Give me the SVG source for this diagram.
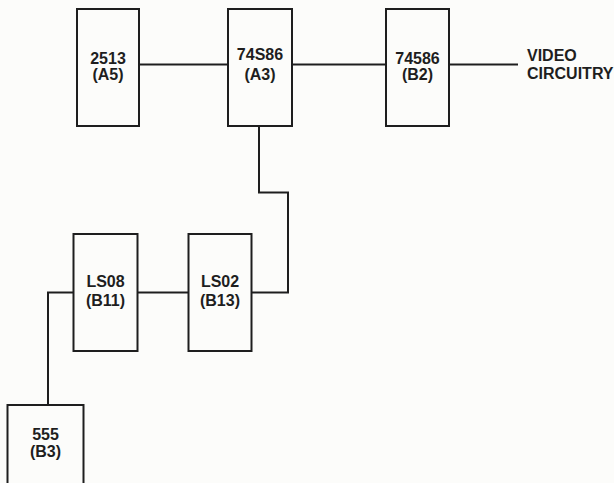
<svg xmlns="http://www.w3.org/2000/svg" width="614" height="483" viewBox="0 0 614 483">
  <style>
    .box { fill: none; stroke: #1e1e1e; stroke-width: 2; }
    .wire { fill: none; stroke: #1e1e1e; stroke-width: 2; }
    .lbl { font-family: "Liberation Sans", Arial, sans-serif; font-weight: bold; font-size: 16px; fill: #1e1e1e; text-anchor: middle; }
    .out { font-family: "Liberation Sans", Arial, sans-serif; font-weight: bold; font-size: 16px; fill: #1e1e1e; }
  </style>
  <rect x="0" y="0" width="614" height="483" fill="#fcfcfa"/>
  <g id="connectors">
    <path class="wire" d="M139 64.5 H228"/>
    <path class="wire" d="M292 64.5 H386"/>
    <path class="wire" d="M449 64.5 H518"/>
    <path class="wire" d="M259 126 V192.5 H288 V292.5 H251.5"/>
    <path class="wire" d="M188.5 292.5 H137.5"/>
    <path class="wire" d="M73.5 292.5 H48 V405"/>
  </g>
  <g id="n2513">
    <rect class="box" x="77" y="9" width="62" height="117"/>
    <text class="lbl" x="108" y="64">2513</text>
    <text class="lbl" x="108" y="80">(A5)</text>
  </g>
  <g id="n74S86">
    <rect class="box" x="228" y="9" width="64" height="117"/>
    <text class="lbl" x="260" y="60">74S86</text>
    <text class="lbl" x="260" y="80">(A3)</text>
  </g>
  <g id="n74586">
    <rect class="box" x="386" y="9" width="63" height="117"/>
    <text class="lbl" x="417.5" y="64">74586</text>
    <text class="lbl" x="417.5" y="80">(B2)</text>
  </g>
  <g id="video">
    <text class="out" x="527" y="61">VIDEO</text>
    <text class="out" x="527" y="79">CIRCUITRY</text>
  </g>
  <g id="nLS08">
    <rect class="box" x="73.5" y="234" width="64" height="117"/>
    <text class="lbl" x="105.5" y="287">LS08</text>
    <text class="lbl" x="105.5" y="306">(B11)</text>
  </g>
  <g id="nLS02">
    <rect class="box" x="188.5" y="234" width="63" height="117"/>
    <text class="lbl" x="220" y="287">LS02</text>
    <text class="lbl" x="220" y="306">(B13)</text>
  </g>
  <g id="n555">
    <rect class="box" x="7.5" y="405" width="76" height="90"/>
    <text class="lbl" x="45.5" y="440">555</text>
    <text class="lbl" x="45.5" y="457">(B3)</text>
  </g>
</svg>
